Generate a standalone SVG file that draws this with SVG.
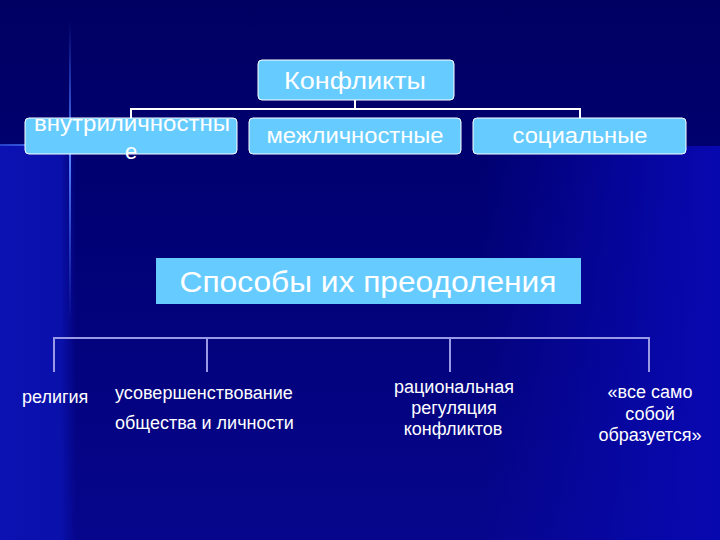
<svg xmlns="http://www.w3.org/2000/svg" width="720" height="540" viewBox="0 0 720 540">
  <defs>
    <linearGradient id="bgBase" x1="0" y1="0" x2="0" y2="1">
      <stop offset="0" stop-color="#000062"/>
      <stop offset="0.3" stop-color="#000070"/>
      <stop offset="1" stop-color="#06068c"/>
    </linearGradient>
    <linearGradient id="bgRight" x1="0" y1="0" x2="1" y2="0">
      <stop offset="0" stop-color="#0808b0" stop-opacity="0"/>
      <stop offset="0.75" stop-color="#0808b0" stop-opacity="0.8"/>
      <stop offset="1" stop-color="#0808b0" stop-opacity="1"/>
    </linearGradient>
    <linearGradient id="bgLeft" x1="0" y1="0" x2="1" y2="0">
      <stop offset="0" stop-color="#0c12b2"/>
      <stop offset="0.8" stop-color="#0a10aa"/>
      <stop offset="1" stop-color="#0a10aa" stop-opacity="0"/>
    </linearGradient>
    <linearGradient id="sparkV" x1="0" y1="0" x2="0" y2="1">
      <stop offset="0" stop-color="#3f6bff" stop-opacity="0"/>
      <stop offset="0.45" stop-color="#5a86ff" stop-opacity="1"/>
      <stop offset="1" stop-color="#3f6bff" stop-opacity="0"/>
    </linearGradient>
    <linearGradient id="sparkH" x1="0" y1="0" x2="1" y2="0">
      <stop offset="0" stop-color="#3f6bff" stop-opacity="0.6"/>
      <stop offset="0.6" stop-color="#5a86ff" stop-opacity="1"/>
      <stop offset="1" stop-color="#3f6bff" stop-opacity="0"/>
    </linearGradient>
    <style>
      .box { fill: #66ccff; stroke: #ffffff; stroke-width: 1; }
      .tb { fill: #ffffff; font-family: "Liberation Sans", Arial, sans-serif; text-anchor: middle; }
      .tl { fill: #ffffff; font-family: "Liberation Sans", Arial, sans-serif; font-size: 18px; }
      .conn1 { fill: none; stroke: #ffffff; stroke-width: 2; }
      .conn2 { fill: none; stroke: #9999e6; stroke-width: 2; }
    </style>
  </defs>

  <!-- background -->
  <rect x="0" y="0" width="720" height="540" fill="url(#bgBase)"/>
  <rect x="480" y="146" width="240" height="394" fill="url(#bgRight)"/>
  <rect x="0" y="146" width="76" height="394" fill="url(#bgLeft)"/>
  <rect x="69" y="20" width="2" height="300" fill="url(#sparkV)"/>
  <rect x="0" y="144" width="110" height="2" fill="url(#sparkH)"/>

  <!-- connectors -->
  <g id="connectors">
    <polyline class="conn1" points="355,100 355,109"/>
    <polyline class="conn1" points="131,118 131,109 580,109 580,118"/>
    <polyline class="conn2" points="54,372 54,338 649,338 649,372"/>
    <line class="conn2" x1="207" y1="338" x2="207" y2="372"/>
    <line class="conn2" x1="450" y1="338" x2="450" y2="372"/>
  </g>

  <g id="konflikty">
    <rect class="box" x="258" y="60" width="196" height="40" rx="4"/>
    <text class="tb" x="355" y="89" font-size="24" textLength="142" lengthAdjust="spacingAndGlyphs">Конфликты</text>
  </g>
  <g id="vnutri">
    <rect class="box" x="25" y="118" width="212" height="36" rx="4"/>
    <text class="tb" x="132" y="131" font-size="22" textLength="196" lengthAdjust="spacingAndGlyphs">внутриличностны</text>
    <text class="tb" x="131" y="159" font-size="22">е</text>
  </g>
  <g id="mezhlich">
    <rect class="box" x="249" y="118" width="212" height="36" rx="4"/>
    <text class="tb" x="355" y="143" font-size="22" textLength="177" lengthAdjust="spacingAndGlyphs">межличностные</text>
  </g>
  <g id="social">
    <rect class="box" x="473" y="118" width="213" height="36" rx="4"/>
    <text class="tb" x="580" y="143" font-size="22" textLength="135" lengthAdjust="spacingAndGlyphs">социальные</text>
  </g>

  <g id="sposoby">
    <rect x="156" y="258" width="425" height="46" fill="#66ccff"/>
    <text class="tb" x="368" y="292" font-size="30" textLength="377" lengthAdjust="spacingAndGlyphs">Способы их преодоления</text>
  </g>

  <g id="religiya">
    <text class="tl" x="22" y="403">религия</text>
  </g>
  <g id="usovershenstvovanie">
    <text class="tl" x="115" y="399">усовершенствование</text>
    <text class="tl" x="115" y="429">общества и личности</text>
  </g>
  <g id="racionalnaya">
    <text class="tl" x="454" y="393" text-anchor="middle">рациональная</text>
    <text class="tl" x="454" y="414" text-anchor="middle">регуляция</text>
    <text class="tl" x="453" y="435" text-anchor="middle">конфликтов</text>
  </g>
  <g id="vse-samo">
    <text class="tl" x="650" y="398" text-anchor="middle">«все само</text>
    <text class="tl" x="650" y="420" text-anchor="middle">собой</text>
    <text class="tl" x="650" y="441" text-anchor="middle">образуется»</text>
  </g>
</svg>
